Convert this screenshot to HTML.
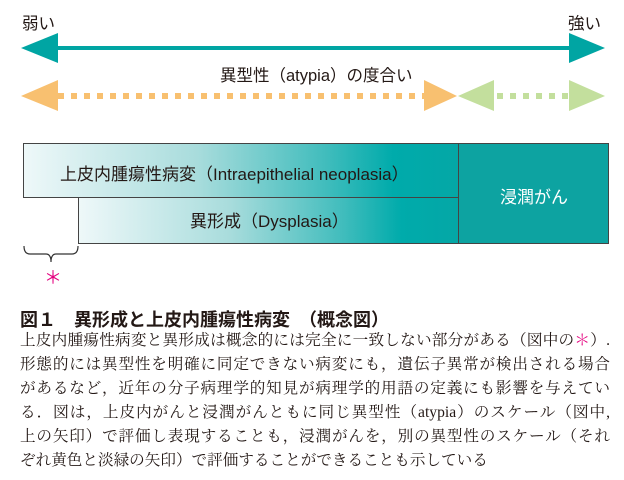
<!DOCTYPE html>
<html><head><meta charset="utf-8"><style>
body{margin:0;width:624px;height:480px;background:#fff;position:relative;overflow:hidden;font-family:"Liberation Sans","Noto Sans CJK JP",sans-serif;color:#231815}
.a{position:absolute}
.box{position:absolute;box-sizing:border-box;border:1px solid #444}
.grad{background:linear-gradient(to right,#eef8f9 0%,#a8dcdc 40%,#3fbcbc 70%,#00abab 85%,#04a7a6 100%)}
.t{position:absolute;white-space:nowrap;font-size:16.5px}
.body{position:absolute;left:20px;width:590px;font-family:"Liberation Serif","Noto Serif CJK JP",serif;font-size:15.6px;line-height:24px}
.body div{text-align:justify;text-align-last:justify;white-space:nowrap;height:24px}
</style></head><body>
<div class="t" style="left:22px;top:10px">弱い</div>
<div class="t" style="left:568px;top:10px">強い</div>
<svg class="a" style="left:0;top:0" width="624" height="140">
<line x1="40" y1="48" x2="590" y2="48" stroke="#00a5a3" stroke-width="4"/>
<polygon points="21,48 58,33 58,63" fill="#00a5a3"/>
<polygon points="605,48 569,33 569,63" fill="#00a5a3"/>
<line x1="58" y1="96" x2="424" y2="96" stroke="#f8c070" stroke-width="6" stroke-dasharray="6,7"/>
<polygon points="21,96 58,80 58,111" fill="#f8c070"/>
<polygon points="457,96 424,80 424,111" fill="#f8c070"/>
<line x1="497" y1="96" x2="568" y2="96" stroke="#c3df9d" stroke-width="6" stroke-dasharray="6,7"/>
<polygon points="458,96 494,80 494,111" fill="#c3df9d"/>
<polygon points="605,96 569,80 569,111" fill="#c3df9d"/>
</svg>
<div class="t" style="left:220px;top:62px">異型性（atypia）の度合い</div>
<div class="box grad" style="left:23px;top:143px;width:436px;height:55px"></div>
<div class="box grad" style="left:78px;top:197px;width:381px;height:47px"></div>
<div class="box" style="left:458px;top:143px;width:151px;height:101px;background:#0da3a1"></div>
<div class="t" style="left:60px;top:160px;font-size:17px">上皮内腫瘍性病変（Intraepithelial neoplasia）</div>
<div class="t" style="left:190px;top:207px;font-size:17px">異形成（Dysplasia）</div>
<div class="t" style="left:500px;top:183px;color:#fff;font-size:17px">浸潤がん</div>
<svg class="a" style="left:0;top:240px" width="100" height="50">
<path d="M24,6 Q24,14 30,14 L46,14 Q51,14 51,22 Q51,14 56,14 L72,14 Q78,14 78,6" fill="none" stroke="#333" stroke-width="1.2"/>
</svg>
<div class="t" style="left:44px;top:264px;color:#e4007f;font-size:18px">＊</div>
<div class="t" style="left:20px;top:306px;font-size:18px;font-weight:bold">図１　異形成と上皮内腫瘍性病変　（概念図）</div>
<div class="body" style="top:329px">
<div>上皮内腫瘍性病変と異形成は概念的には完全に一致しない部分がある（図中の<span style="color:#e4007f">＊</span>）.</div>
<div>形態的には異型性を明確に同定できない病変にも，遺伝子異常が検出される場合</div>
<div>があるなど，近年の分子病理学的知見が病理学的用語の定義にも影響を与えてい</div>
<div>る．図は，上皮内がんと浸潤がんともに同じ異型性（atypia）のスケール（図中,</div>
<div>上の矢印）で評価し表現することも，浸潤がんを，別の異型性のスケール（それ</div>
<div style="text-align-last:left">ぞれ黄色と淡緑の矢印）で評価することができることも示している</div>
</div>
</body></html>
